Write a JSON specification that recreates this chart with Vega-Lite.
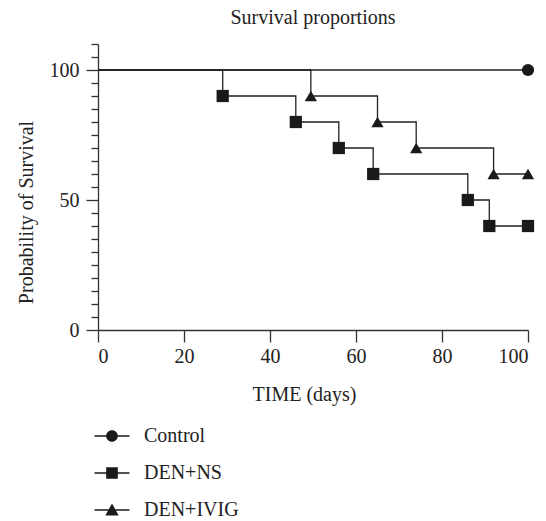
{
  "$schema": "https://vega.github.io/schema/vega-lite/v6.json",
  "autosize": {"type": "none"},
  "padding": {"left": 98, "top": 44, "right": 18, "bottom": 191},
  "width": 430,
  "height": 286,
  "background": "white",
  "title": {"text": "Survival proportions", "font": "Liberation Serif", "fontSize": 20, "fontWeight": "normal", "color": "#222", "offset": 6, "anchor": "middle"},
  "config": {
    "view": {"stroke": null},
    "axis": {"domainColor": "#333", "tickColor": "#333", "domainWidth": 1.3, "tickWidth": 1.3, "labelFont": "Liberation Serif", "labelFontSize": 20, "labelColor": "#222", "titleFont": "Liberation Serif", "titleFontSize": 20, "titleFontWeight": "normal", "titleColor": "#222", "grid": false}
  },
  "datasets": {
    "curves": [
      {"series": "Control", "t": 0, "s": 100},
      {"series": "Control", "t": 100, "s": 100},
      {"series": "DEN+NS", "t": 0, "s": 100},
      {"series": "DEN+NS", "t": 29, "s": 90},
      {"series": "DEN+NS", "t": 46, "s": 80},
      {"series": "DEN+NS", "t": 56, "s": 70},
      {"series": "DEN+NS", "t": 64, "s": 60},
      {"series": "DEN+NS", "t": 86, "s": 50},
      {"series": "DEN+NS", "t": 91, "s": 40},
      {"series": "DEN+NS", "t": 100, "s": 40},
      {"series": "DEN+IVIG", "t": 0, "s": 100},
      {"series": "DEN+IVIG", "t": 49.5, "s": 90},
      {"series": "DEN+IVIG", "t": 65, "s": 80},
      {"series": "DEN+IVIG", "t": 74, "s": 70},
      {"series": "DEN+IVIG", "t": 92, "s": 60},
      {"series": "DEN+IVIG", "t": 100, "s": 60}
    ],
    "events": [
      {"series": "Control", "marker": "circle", "t": 100, "s": 100},
      {"series": "DEN+NS", "marker": "square", "t": 29, "s": 90},
      {"series": "DEN+NS", "marker": "square", "t": 46, "s": 80},
      {"series": "DEN+NS", "marker": "square", "t": 56, "s": 70},
      {"series": "DEN+NS", "marker": "square", "t": 64, "s": 60},
      {"series": "DEN+NS", "marker": "square", "t": 86, "s": 50},
      {"series": "DEN+NS", "marker": "square", "t": 91, "s": 40},
      {"series": "DEN+NS", "marker": "square", "t": 100, "s": 40},
      {"series": "DEN+IVIG", "marker": "triangle-up", "t": 49.5, "s": 90},
      {"series": "DEN+IVIG", "marker": "triangle-up", "t": 65, "s": 80},
      {"series": "DEN+IVIG", "marker": "triangle-up", "t": 74, "s": 70},
      {"series": "DEN+IVIG", "marker": "triangle-up", "t": 92, "s": 60},
      {"series": "DEN+IVIG", "marker": "triangle-up", "t": 100, "s": 60}
    ]
  },
  "encoding": {
    "x": {"field": "t", "type": "quantitative", "scale": {"domain": [0, 100], "nice": false, "zero": false},
      "axis": {"values": [0, 20, 40, 60, 80, 100], "tickSize": 12, "labelPadding": 4, "title": "TIME (days)", "titlePadding": 18, "titleX": 206}},
    "y": {"field": "s", "type": "quantitative", "scale": {"domain": [0, 110], "nice": false},
      "axis": {"values": [0, 5, 10, 15, 20, 25, 30, 35, 40, 45, 50, 55, 60, 65, 70, 75, 80, 85, 90, 95, 100, 105, 110],
        "labelExpr": "datum.value % 50 === 0 ? datum.label : ''",
        "tickSize": {"condition": {"test": "datum.value % 50 === 0", "value": 12}, "value": 7},
        "labelPadding": 7, "labelBound": false, "labelOverlap": false, "title": "Probability of Survival", "titlePadding": 13, "titleY": 168}}
  },
  "layer": [
    {
      "data": {"name": "curves"},
      "mark": {"type": "line", "interpolate": "step-after", "color": "#222", "strokeWidth": 1.3},
      "encoding": {"detail": {"field": "series"}}
    },
    {
      "data": {"name": "events"},
      "mark": {"type": "point", "filled": true, "color": "#1a1a1a", "opacity": 1, "size": 150},
      "encoding": {"shape": {"field": "marker", "type": "nominal", "scale": null}}
    },
    {
      "data": {"name": "events"},
      "transform": [{"filter": "false"}],
      "mark": {"type": "point", "filled": true, "color": "#1a1a1a", "opacity": 1},
      "encoding": {
        "shape": {"field": "series", "type": "nominal",
          "scale": {"domain": ["Control", "DEN+NS", "DEN+IVIG"],
            "range": ["M-3,-0.11H3V0.11H-3ZM1,0A1,1 0 1,1 -1,0A1,1 0 1,1 1,0Z", "M-3,-0.11H3V0.11H-3ZM-1,-1H1V1H-1Z", "M-3,-0.11H3V0.11H-3ZM0,-1.1L1.15,0.95H-1.15Z"]},
          "legend": {"orient": "none", "legendX": 4, "legendY": 382, "title": null, "symbolSize": 136,
            "symbolFillColor": "#1a1a1a", "symbolStrokeColor": "#222", "symbolStrokeWidth": 1, "symbolOpacity": 1,
            "labelFont": "Liberation Serif", "labelFontSize": 20, "labelColor": "#222", "labelOffset": 22, "rowPadding": 17, "padding": 0}
        }
      }
    }
  ]
}
